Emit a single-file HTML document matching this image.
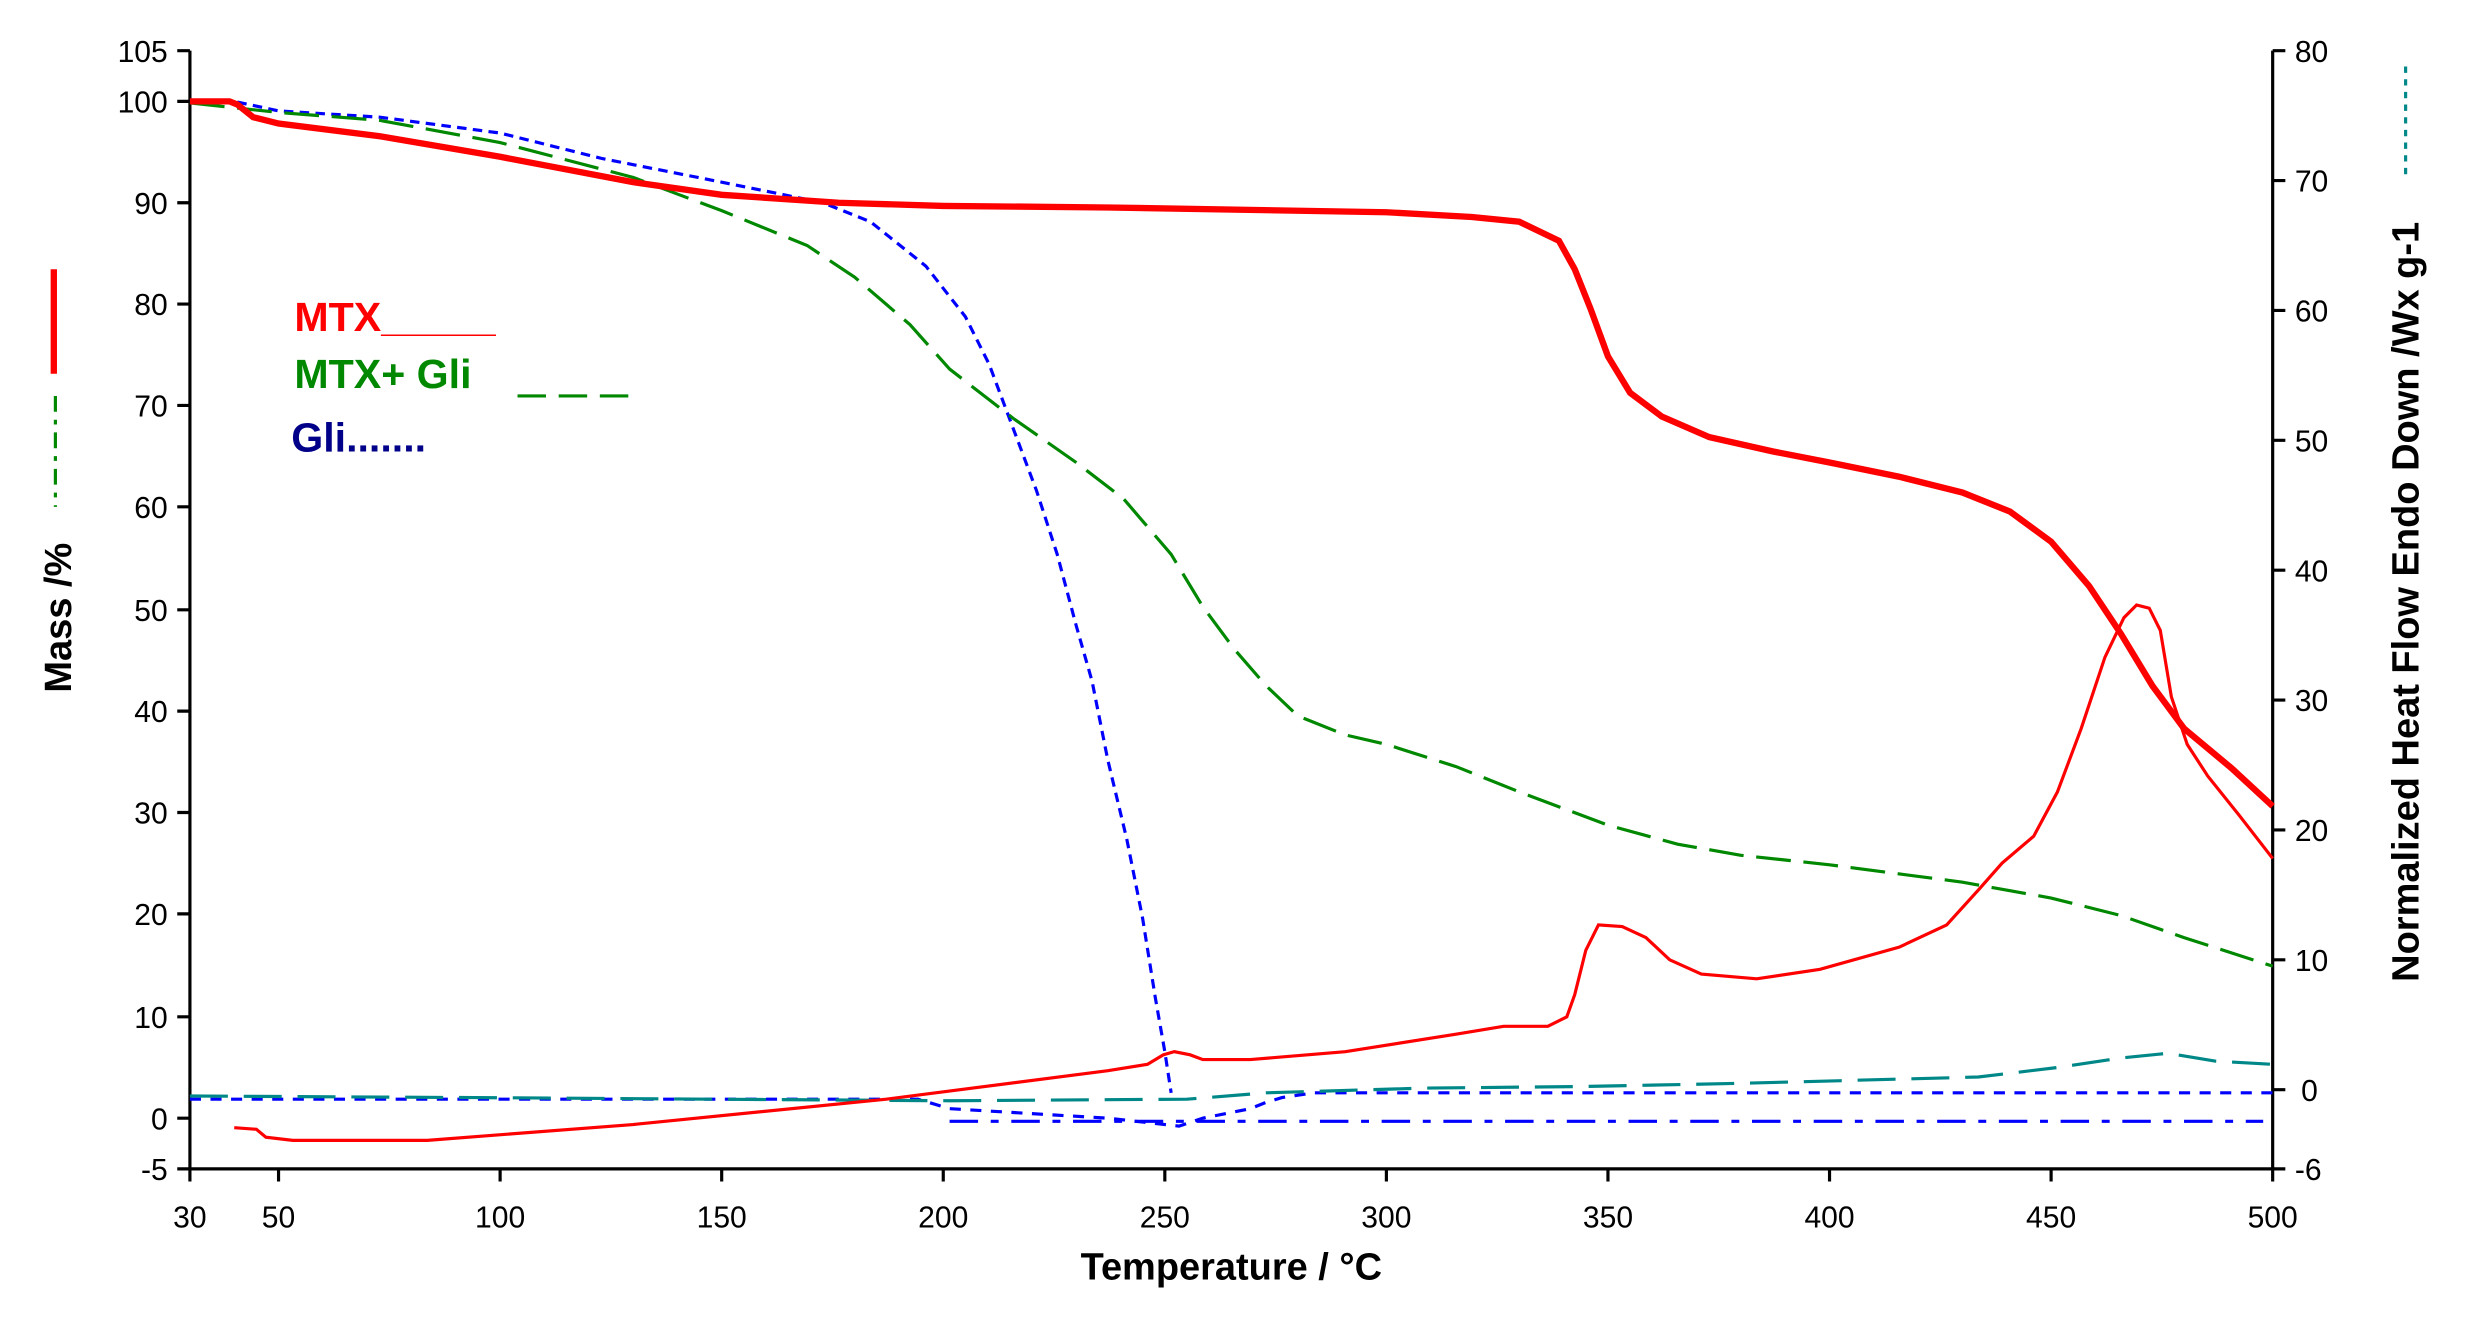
<!DOCTYPE html>
<html><head><meta charset="utf-8"><style>
html,body{margin:0;padding:0;background:#fff;}
svg{display:block;}
text{font-family:"Liberation Sans",Arial,sans-serif;}
</style></head><body>
<svg width="2480" height="1332" viewBox="0 0 1567 841" preserveAspectRatio="none" xmlns="http://www.w3.org/2000/svg">
<rect width="1567" height="841" fill="#fff"/>
<g stroke="#000" stroke-width="2" fill="none">
<line x1="120" y1="32" x2="120" y2="739"/>
<line x1="120" y1="738" x2="1437" y2="738"/>
<line x1="1436" y1="32" x2="1436" y2="739"/>
<path d="M112 32H120M112 64H120M112 128H120M112 192H120M112 256H120M112 320H120M112 385H120M112 449H120M112 513H120M112 577H120M112 642H120M112 706H120M112 738H120"/>
<path d="M1436 32H1444M1436 114H1444M1436 196H1444M1436 278H1444M1436 360H1444M1436 442H1444M1436 524H1444M1436 606H1444M1436 688H1444M1436 738H1444"/>
<path d="M120 738V746M176 738V746M316 738V746M456 738V746M596 738V746M736 738V746M876 738V746M1016 738V746M1156 738V746M1296 738V746M1436 738V746"/>
</g>
<g font-size="19" fill="#000" text-anchor="end">
<text x="106" y="39">105</text><text x="106" y="71">100</text><text x="106" y="135">90</text><text x="106" y="199">80</text><text x="106" y="263">70</text><text x="106" y="327">60</text><text x="106" y="392">50</text><text x="106" y="456">40</text><text x="106" y="520">30</text><text x="106" y="584">20</text><text x="106" y="649">10</text><text x="106" y="713">0</text><text x="106" y="745">-5</text>
</g>
<g font-size="19" fill="#000" text-anchor="start">
<text x="1450" y="39">80</text><text x="1450" y="121">70</text><text x="1450" y="203">60</text><text x="1450" y="285">50</text><text x="1450" y="367">40</text><text x="1450" y="449">30</text><text x="1450" y="531">20</text><text x="1450" y="613">10</text><text x="1454" y="695">0</text><text x="1450" y="745">-6</text>
</g>
<g font-size="19" fill="#000" text-anchor="middle">
<text x="120" y="775">30</text><text x="176" y="775">50</text><text x="316" y="775">100</text><text x="456" y="775">150</text><text x="596" y="775">200</text><text x="736" y="775">250</text><text x="876" y="775">300</text><text x="1016" y="775">350</text><text x="1156" y="775">400</text><text x="1296" y="775">450</text><text x="1436" y="775">500</text>
</g>
<text x="778" y="808" font-size="24" font-weight="bold" text-anchor="middle">Temperature / °C</text>
<text transform="translate(45,390) rotate(-90)" font-size="24" font-weight="bold" text-anchor="middle">Mass /%</text>
<text transform="translate(1528,380) rotate(-90)" font-size="24" font-weight="bold" text-anchor="middle">Normalized Heat Flow Endo Down /Wx g-1</text>
<line x1="34" y1="170" x2="34" y2="236" stroke="#f00" stroke-width="4"/>
<line x1="35" y1="250" x2="35" y2="320" stroke="#080" stroke-width="2" stroke-dasharray="10,5,3,5"/>
<line x1="1520" y1="42" x2="1520" y2="110" stroke="#088" stroke-width="2" stroke-dasharray="4,4"/>
<text x="186" y="209" font-size="26" font-weight="bold" fill="#f00">MTX_____</text>
<text x="186" y="245" font-size="26" font-weight="bold" fill="#080">MTX+ Gli</text>
<line x1="327" y1="250" x2="400" y2="250" stroke="#080" stroke-width="2" stroke-dasharray="18,8"/>
<text x="184" y="285" font-size="26" font-weight="bold" fill="#008">Gli.......</text>
<path d="M120 694 L580 694 L600 700 L700 706 L745 711 L760 706 L775 703 L790 700 L800 696 L810 693 L830 690 L1436 690" fill="none" stroke="#00f" stroke-width="2" stroke-dasharray="7,6"/>
<path d="M600 708 L1430 708" fill="none" stroke="#00f" stroke-width="2" stroke-dasharray="18,8,5,8"/>
<path d="M120 692 L300 693 L600 695 L750 694 L800 690 L900 687 L1000 686 L1100 684 L1250 680 L1300 674 L1340 668 L1370 665 L1400 670 L1436 672" fill="none" stroke="#088" stroke-width="2" stroke-dasharray="24,10"/>
<path d="M148 712 L162 713 L168 718 L185 720 L270 720 L400 710 L560 694 L700 676 L725 672 L735 666 L742 664 L752 666 L760 669 L790 669 L850 664 L920 653 L950 648 L978 648 L990 642 L995 628 L1002 600 L1010 584 L1025 585 L1040 592 L1055 606 L1075 615 L1110 618 L1150 612 L1200 598 L1230 584 L1250 562 L1265 545 L1285 528 L1300 500 L1315 460 L1330 415 L1342 390 L1350 382 L1358 384 L1365 398 L1372 440 L1382 470 L1395 490 L1415 515 L1436 542" fill="none" stroke="#f00" stroke-width="2"/>
<path d="M120 64 L148 64 L176 70 L240 74 L316 84 L380 100 L456 115 L520 128 L550 140 L585 168 L610 200 L625 230 L640 270 L655 310 L668 350 L680 395 L690 430 L700 480 L712 530 L722 580 L730 630 L736 664 L740 690" fill="none" stroke="#00f" stroke-width="2" stroke-dasharray="6,4"/>
<path d="M120 65 L176 71 L240 76 L316 90 L400 112 L456 133 L510 155 L540 175 L575 205 L600 233 L640 264 L680 292 L710 315 L740 350 L760 383 L780 410 L800 433 L820 452 L850 464 L876 470 L920 484 L960 500 L1016 521 L1060 533 L1100 540 L1156 546 L1240 557 L1296 567 L1340 578 L1380 592 L1436 610" fill="none" stroke="#080" stroke-width="2" stroke-dasharray="22,8"/>
<path d="M120 64 L145 64 L150 66 L160 74 L176 78 L240 86 L316 99 L400 115 L456 123 L530 128 L596 130 L700 131 L876 134 L930 137 L960 140 L985 152 L995 170 L1005 195 L1016 225 L1030 248 L1050 263 L1080 276 L1120 285 L1156 292 L1200 301 L1240 311 L1270 323 L1296 342 L1320 370 L1340 400 L1360 433 L1380 460 L1410 485 L1436 509" fill="none" stroke="#f00" stroke-width="4"/>
</svg>
</body></html>
